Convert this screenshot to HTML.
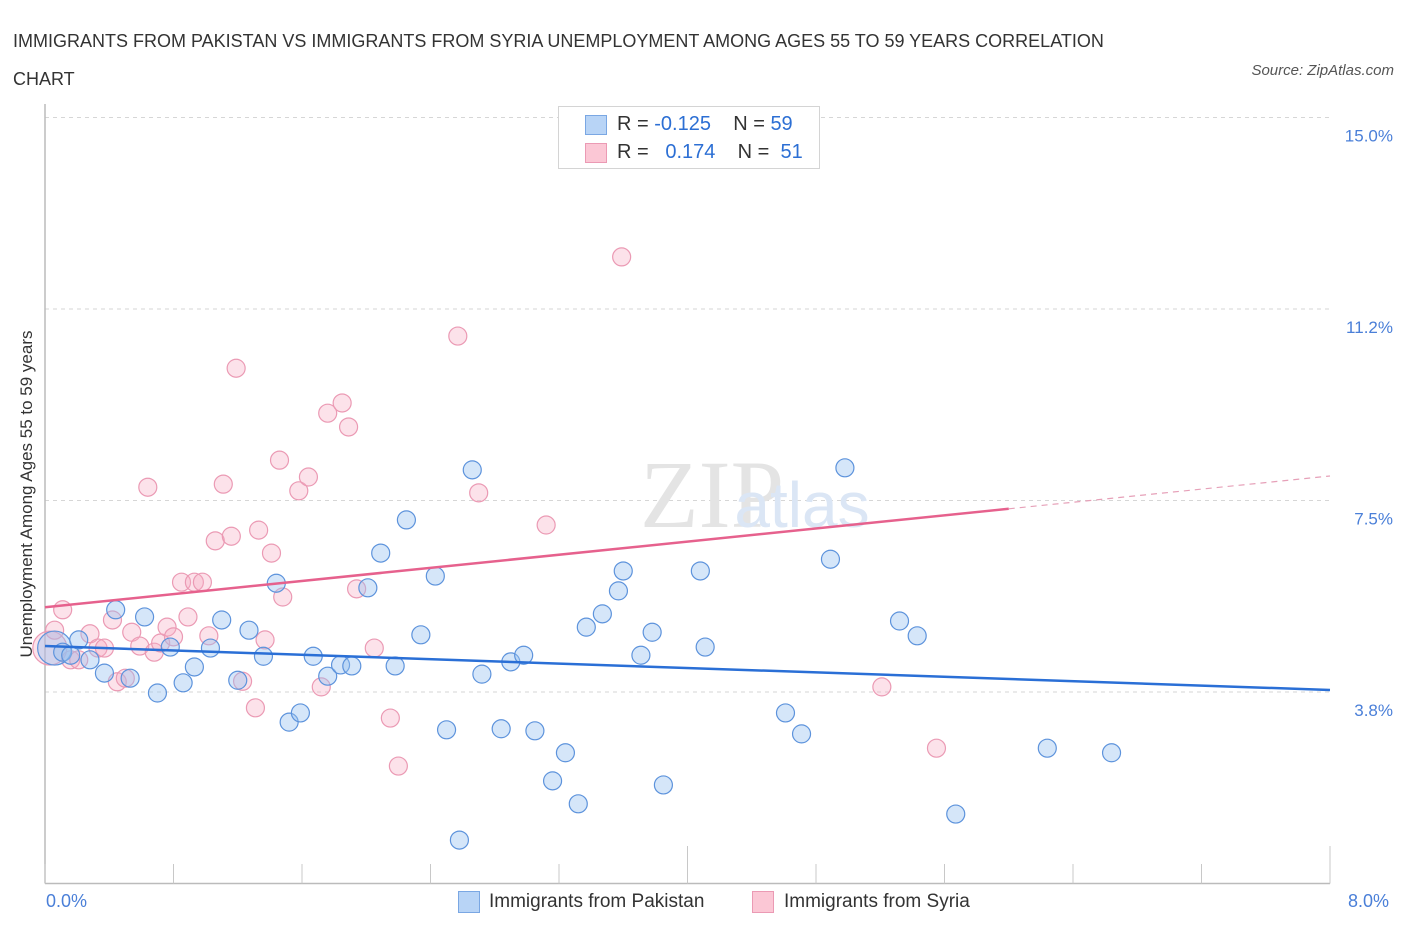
<!DOCTYPE html>
<html><head><meta charset="utf-8"><style>
body{margin:0;background:#fff;font-family:"Liberation Sans",sans-serif;}
#wrap{position:relative;width:1406px;height:930px;overflow:hidden;}
.t{position:absolute;white-space:nowrap;}
</style></head><body>
<div id="wrap">
<div class="t" style="left:13px;top:22px;font-size:18px;color:#333;line-height:38px;">IMMIGRANTS FROM PAKISTAN VS IMMIGRANTS FROM SYRIA UNEMPLOYMENT AMONG AGES 55 TO 59 YEARS CORRELATION<br>CHART</div>
<div class="t" style="right:12px;top:62px;font-size:15px;color:#555;font-style:italic;">Source: ZipAtlas.com</div>
<svg id="plot" width="1406" height="930" style="position:absolute;left:0;top:0"></svg>
</div>
<script>
const xTicks=[0,0.8,1.6,2.4,3.2,4.0,4.8,5.6,6.4,7.2,8.0];
const yTicks=[3.75,7.5,11.25,15.0];
const yTickLabels=["3.8%","7.5%","11.2%","15.0%"];
const pakX=[0.06,0.11,0.16,0.21,0.28,0.37,0.44,0.53,0.62,0.70,0.78,0.86,0.93,1.03,1.10,1.20,1.27,1.36,1.44,1.52,1.59,1.67,1.76,1.84,1.91,2.01,2.09,2.18,2.25,2.34,2.43,2.50,2.58,2.66,2.72,2.84,2.90,2.98,3.05,3.16,3.24,3.32,3.37,3.47,3.57,3.60,3.71,3.78,3.85,4.08,4.11,4.61,4.71,4.89,4.98,5.32,5.43,5.67,6.24,6.64];
const pakY=[4.61,4.53,4.47,4.77,4.38,4.12,5.36,4.02,5.22,3.73,4.63,3.93,4.24,4.61,5.16,3.98,4.96,4.45,5.88,3.16,3.34,4.45,4.06,4.28,4.26,5.79,6.47,4.26,7.12,4.87,6.02,3.01,0.85,8.10,4.10,3.03,4.34,4.47,2.99,2.01,2.56,1.56,5.02,5.28,5.73,6.12,4.47,4.92,1.93,6.12,4.63,3.34,2.93,6.35,8.14,5.14,4.85,1.36,2.65,2.56];
const syrX=[0.03,0.06,0.11,0.16,0.21,0.28,0.33,0.37,0.42,0.45,0.50,0.54,0.59,0.64,0.68,0.72,0.76,0.80,0.85,0.89,0.93,0.98,1.02,1.06,1.11,1.16,1.19,1.23,1.31,1.33,1.37,1.41,1.46,1.48,1.58,1.64,1.72,1.76,1.85,1.89,1.94,2.05,2.15,2.20,2.57,2.70,3.12,3.59,5.21,5.55];
const syrY=[4.61,4.96,5.36,4.38,4.38,4.89,4.61,4.61,5.16,3.95,4.02,4.92,4.65,7.76,4.53,4.71,5.02,4.83,5.90,5.22,5.90,5.90,4.85,6.71,7.82,6.80,10.09,3.96,3.44,6.92,4.77,6.47,8.29,5.61,7.69,7.96,3.85,9.21,9.41,8.94,5.77,4.61,3.24,2.30,10.72,7.65,7.02,12.27,3.85,2.65];
const pakTrend=[4.65,3.79];
const syrTrend=[5.41,7.98];
const syrSolidEnd=[6.0];

const X0=45,X1=1330,Y0=883.5;
const sx=v=>X0+(v/8)*(X1-X0);
const sy=v=>Y0-(v/3.75)*191.5;
const svg=document.getElementById('plot');
const NS='http://www.w3.org/2000/svg';
function mk(tag,attrs){const e=document.createElementNS(NS,tag);for(const k in attrs)e.setAttribute(k,attrs[k]);svg.appendChild(e);return e;}

yTicks.forEach((v,i)=>{
 const g=mk('line',{x1:X0,x2:X1,y1:sy(v),y2:sy(v),stroke:'#d6d6d6','stroke-dasharray':'4,4','stroke-width':1});
 
 
 const t=mk('text',{x:1393,y:sy(v)+24,'text-anchor':'end','font-size':17,fill:'#4a7fd8','font-family':'Liberation Sans, sans-serif'});
 t.textContent=yTickLabels[i];
 
 
});
const ya=mk('line',{x1:X0,x2:X0,y1:104,y2:Y0,stroke:'#bbb','stroke-width':1.5});


const xa=mk('line',{x1:X0,x2:X1,y1:Y0,y2:Y0,stroke:'#bbb','stroke-width':1.5});


xTicks.forEach((v,i)=>{
 const long=(i===5||i===10);
 const tk=mk('line',{x1:sx(v),x2:sx(v),y1:long?846:864,y2:Y0,stroke:'#c8c8c8','stroke-width':1});
 
 
});
const wm=mk('text',{x:712,y:527,'text-anchor':'middle','font-size':96,fill:'#e4e4e4','font-family':'Liberation Serif, serif'});
wm.textContent='ZIP';


const wm2=mk('text',{x:802,y:527,'text-anchor':'middle','font-size':64,fill:'#dbe6f5','font-family':'Liberation Sans, sans-serif'});
wm2.textContent='atlas';



function pts(xs,ys,fill,stroke,name){
 xs.forEach((x,i)=>{
  const r=i===0?17:9;
  const c=mk('circle',{cx:sx(x),cy:sy(ys[i]),r:r,fill:fill,stroke:stroke,'stroke-width':1.2});
  
  
 });
}
pts(syrX,syrY,'rgba(246,172,196,0.35)','#eb9ab4','syria-point');
pts(pakX,pakY,'rgba(150,192,240,0.4)','#5d93dc','pakistan-point');

const pl=mk('line',{x1:sx(0),y1:sy(pakTrend[0]),x2:sx(8),y2:sy(pakTrend[1]),stroke:'#2a6fd6','stroke-width':2.5});


const sm=syrTrend[0]+(syrTrend[1]-syrTrend[0])*syrSolidEnd[0]/8;
const s1=mk('line',{x1:sx(0),y1:sy(syrTrend[0]),x2:sx(syrSolidEnd[0]),y2:sy(sm),stroke:'#e6618d','stroke-width':2.5});


const s2=mk('line',{x1:sx(syrSolidEnd[0]),y1:sy(sm),x2:sx(8),y2:sy(syrTrend[1]),stroke:'#e6a0b8','stroke-width':1.2,'stroke-dasharray':'6,5'});


</script>
<div style="position:absolute;left:558px;top:106px;width:260px;height:61px;border:1px solid #d4d4d4;background:#fff;font-size:20px;">
 <div style="position:absolute;left:26px;top:8px;width:20px;height:18px;background:#b8d4f6;border:1px solid #7aa7e3;"></div>
 <div class="t" style="left:58px;top:6px;color:#333;">R = <span style="color:#2c6fd4">-0.125</span>&nbsp;&nbsp;&nbsp; N = <span style="color:#2c6fd4">59</span></div>
 <div style="position:absolute;left:26px;top:36px;width:20px;height:18px;background:#fbc7d5;border:1px solid #eb9ab4;"></div>
 <div class="t" style="left:58px;top:34px;color:#333;">R = &nbsp;&nbsp;<span style="color:#2c6fd4">0.174</span>&nbsp;&nbsp;&nbsp; N = &nbsp;<span style="color:#2c6fd4">51</span></div>
</div>
<div class="t" style="left:46px;top:891px;font-size:18px;color:#4a7fd8;">0.0%</div>
<div class="t" style="left:1348px;top:891px;font-size:18px;color:#4a7fd8;">8.0%</div>
<div style="position:absolute;left:458px;top:891px;">
 <div style="position:absolute;left:0;top:0;width:20px;height:20px;background:#b8d4f6;border:1px solid #7aa7e3;"></div>
 <div class="t" style="left:31px;top:0;font-size:19px;color:#333;">Immigrants from Pakistan</div>
</div>
<div style="position:absolute;left:752px;top:891px;">
 <div style="position:absolute;left:0;top:0;width:20px;height:20px;background:#fbc7d5;border:1px solid #eb9ab4;"></div>
 <div class="t" style="left:32px;top:0;font-size:19px;color:#333;">Immigrants from Syria</div>
</div>
<div class="t" style="left:27px;top:494px;font-size:17px;color:#333;transform:translate(-50%,-50%) rotate(-90deg);transform-origin:center;">Unemployment Among Ages 55 to 59 years</div>
</body></html>
